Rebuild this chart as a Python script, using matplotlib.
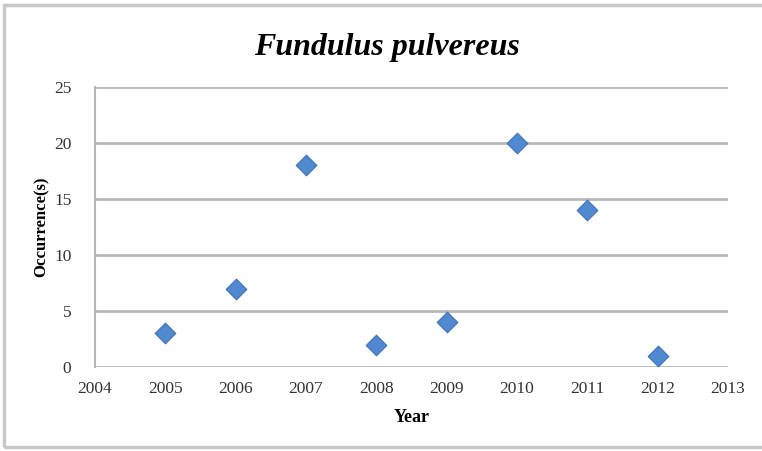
import matplotlib.pyplot as plt
from matplotlib.patches import Rectangle

years = [2005, 2006, 2007, 2008, 2009, 2010, 2011, 2012]
occurrences = [3, 7, 18, 2, 4, 20, 14, 1]
x_ticks = list(range(2004, 2014))
y_ticks = [0, 5, 10, 15, 20, 25]

plt.rcParams['font.family'] = ['Liberation Serif', 'DejaVu Serif']

fig = plt.figure(figsize=(7.62, 4.51), dpi=100)
ax = fig.add_axes([0.1247, 0.1863, 0.8307, 0.6207])

# chart frame
fig.patches.append(Rectangle((0.005, 0.008), 1.2, 0.982, transform=fig.transFigure,
                             fill=False, edgecolor='#c8c8c8', linewidth=2.5))

ax.scatter(years, occurrences, marker='D', s=110, color='#5088d2',
           edgecolor='#3e70b2', linewidth=0.8, zorder=3)

ax.set_xlim(2004, 2013)
ax.set_ylim(0, 25)
ax.set_xticks(x_ticks)
ax.set_yticks(y_ticks)
ax.grid(axis='y', color='#b8b8b8', linewidth=2)
ax.set_axisbelow(True)
for side in ['top', 'right', 'bottom']:
    ax.spines[side].set_visible(False)
ax.spines['left'].set_color('#b8b8b8')
ax.spines['left'].set_linewidth(1.5)
ax.tick_params(length=0, labelsize=12.5, colors='#333333')
ax.tick_params(axis='x', pad=10)
ax.tick_params(axis='y', pad=17)

fig.text(0.508, 0.895, 'Fundulus pulvereus', ha='center', va='center',
         fontsize=23, fontweight='bold', fontstyle='italic')
ax.set_xlabel('Year', fontsize=13, fontweight='bold', labelpad=9)
ax.set_ylabel('Occurrence(s)', fontsize=12, fontweight='bold', labelpad=3)

fig.savefig('out.png', dpi=100)
